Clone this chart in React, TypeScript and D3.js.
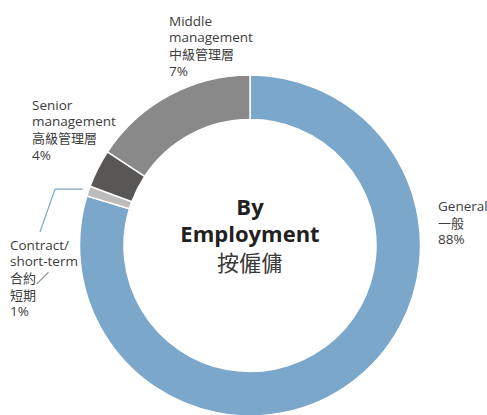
import React from "react";
import * as d3 from "d3";

// Slice shares as drawn in the picture (arc sizes), in clockwise order from 12 o'clock
const categories = ["General", "Contract", "Senior", "Middle"];
const shares = [79.7, 0.95, 3.6, 15.75];
const colors = ["#7ba7cb", "#bcbcbc", "#595755", "#898989"];

// Label texts
const labelLines: Record<string, string[]> = {
  General: ["General", "一般", "88%"],
  Contract: ["Contract/", "short-term", "合約／", "短期", "1%"],
  Senior: ["Senior", "management", "高級管理層", "4%"],
  Middle: ["Middle", "management", "中級管理層", "7%"],
};
const centerLines = ["By", "Employment", "按僱傭"];

const W = 487;
const H = 415;

const isCJK = (s: string) => /[\u3000-\u9fff\uff00-\uffef]/.test(s);

export default function App() {
  const cx = 250;
  const cy = 245.5;
  const outerR = 170.5;
  const innerR = 126;

  const pie = d3
    .pie<number>()
    .sort(null)
    .value((d) => d)
    .startAngle(0)
    .endAngle(2 * Math.PI);
  const arcs = pie(shares);
  const arcGen = d3
    .arc<d3.PieArcDatum<number>>()
    .innerRadius(innerR)
    .outerRadius(outerR);

  const font = "'Open Sans', 'Noto Sans CJK TC', sans-serif";
  const lh = 16.7;

  const labelPos: Record<string, { x: number; y: number }> = {
    Middle: { x: 169, y: 25.5 },
    Senior: { x: 32, y: 109.5 },
    Contract: { x: 10, y: 249.5 },
    General: { x: 438, y: 211 },
  };

  // leader line for contract slice
  const ca = arcs[1];
  const mid = (ca.startAngle + ca.endAngle) / 2;
  const r0 = outerR + 6;
  const p0x = cx + r0 * Math.sin(mid);
  const p0y = cy - r0 * Math.cos(mid);
  const leader = d3.line()([
    [p0x, p0y],
    [55, p0y],
    [40, 232],
  ]);

  return (
    <svg
      width={W}
      height={H}
      style={{ position: "absolute", left: 0, top: 0 }}
      viewBox={`0 0 ${W} ${H}`}
    >
      <rect width={W} height={H} fill="#fff" />
      <g transform={`translate(${cx},${cy})`}>
        {arcs.map((a, i) => (
          <path
            key={categories[i]}
            d={arcGen(a) || ""}
            fill={colors[i]}
            stroke="#fff"
            strokeWidth={1.5}
          />
        ))}
      </g>
      <path d={leader || ""} fill="none" stroke="#7ba7cb" strokeWidth={1.2} />
      {categories.map((c) => (
        <text
          key={c}
          x={labelPos[c].x}
          y={labelPos[c].y}
          fontFamily={font}
          fontSize={13.5}
          fill="#3d3d3d"
        >
          {labelLines[c].map((l, j) => (
            <tspan
              key={j}
              x={labelPos[c].x}
              y={labelPos[c].y + j * lh}
              fontSize={isCJK(l) ? 13 : 13.5}
            >
              {l}
            </tspan>
          ))}
        </text>
      ))}
      <text
        textAnchor="middle"
        fontFamily={font}
        fontSize={22}
        fontWeight="bold"
        fill="#231f20"
      >
        <tspan x={cx} y={215}>
          {centerLines[0]}
        </tspan>
        <tspan x={cx} y={242}>
          {centerLines[1]}
        </tspan>
        <tspan x={cx} y={270.5} fontWeight="normal" fill="#3a3a3a">
          {centerLines[2]}
        </tspan>
      </text>
    </svg>
  );
}
